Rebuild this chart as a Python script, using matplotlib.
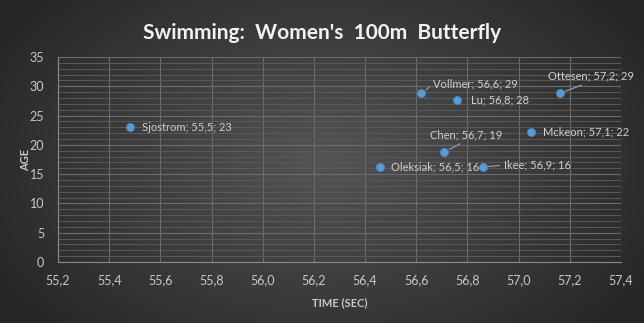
import matplotlib.pyplot as plt
import numpy as np
from matplotlib.ticker import MultipleLocator, FuncFormatter

# data
names = ["Sjostrom", "Vollmer", "Lu", "Ottesen", "Chen", "Mckeon", "Oleksiak", "Ikee"]
times = [55.48, 56.62, 56.76, 57.16, 56.71, 57.05, 56.46, 56.86]
ages = [23, 28.8, 27.6, 28.8, 18.8, 22.2, 16.2, 16.2]

# label left-edge offsets in pixels (dx right, dy up), leader line anchor on the text box
offsets = [(12, 0), (12, 9), (14, 0), (-12, 17), (-14, 17), (12, 0), (11, 0), (21, 2)]
leaders = [None, (0, 0.5), None, (0.5, 0), (0.5, 0), None, None, (0, 0.5)]

plt.rcParams['font.family'] = ['Lato', 'DejaVu Sans']

fig = plt.figure(figsize=(6.44, 3.23), dpi=100)

# radial dark background
bg = fig.add_axes([0, 0, 1, 1], zorder=-10)
yy, xx = np.mgrid[0:323, 0:644]
r = np.sqrt(((xx - 322) / 400.0) ** 2 + ((yy - 160) / 260.0) ** 2)
shade = np.clip(0.33 - 0.19 * r, 0.15, 0.33)
bg.imshow(np.dstack([shade] * 3), aspect='auto', extent=[0, 1, 0, 1], origin='upper')
bg.axis('off')

ax = fig.add_axes([58 / 644, 61 / 323, 563 / 644, 205 / 323])
ax.set_facecolor('none')
ax.set_xlim(55.2, 57.4)
ax.set_ylim(0, 35)
ax.xaxis.set_major_locator(MultipleLocator(0.2))
ax.yaxis.set_major_locator(MultipleLocator(5))
ax.yaxis.set_minor_locator(MultipleLocator(1))
ax.xaxis.set_major_formatter(FuncFormatter(lambda v, p: f"{v:.1f}".replace('.', ',')))
ax.grid(True, which='major', axis='both', color='#6c6c6c', lw=0.8)
ax.grid(True, which='minor', axis='y', color='#5a5a5a', lw=0.7)
ax.set_axisbelow(True)
for s in ['top', 'right']:
    ax.spines[s].set_visible(False)
for s in ['left', 'bottom']:
    ax.spines[s].set_color('#8a8a8a')
ax.tick_params(which='both', length=0, colors='#c8c8c8', labelsize=9)
ax.tick_params(axis='x', pad=9)
ax.tick_params(axis='y', pad=10)

ax.scatter(times, ages, s=34, color='#5b9bd5', zorder=3, edgecolors='#4a8ac4', linewidths=0.5)

for n, t, a, (dx, dy), ld in zip(names, times, ages, offsets, leaders):
    lab = f"{n}; {t + 1e-6:.1f}; {a:.0f}".replace('.', ',')
    kw = dict(xytext=(dx * 0.72, dy * 0.72), textcoords='offset points',
              ha='left', va='center', color='#d0d0d0', fontsize=8)
    if ld is not None:
        kw['arrowprops'] = dict(arrowstyle='-', color='#a0a0a0', lw=0.8,
                                shrinkA=1, shrinkB=4, relpos=ld)
    ax.annotate(lab, (t, a), **kw)

ax.set_xlabel('TIME (SEC)', color='#c8c8c8', fontsize=8, fontweight='bold', labelpad=8)
ax.set_ylabel('AGE', color='#c8c8c8', fontsize=8, fontweight='bold', labelpad=-1)

fig.text(0.5, 0.897, "Swimming:  Women's  100m  Butterfly", ha='center', va='center',
         color='#f2f2f2', fontsize=15, fontweight='bold')

fig.savefig('out.png', dpi=100)
